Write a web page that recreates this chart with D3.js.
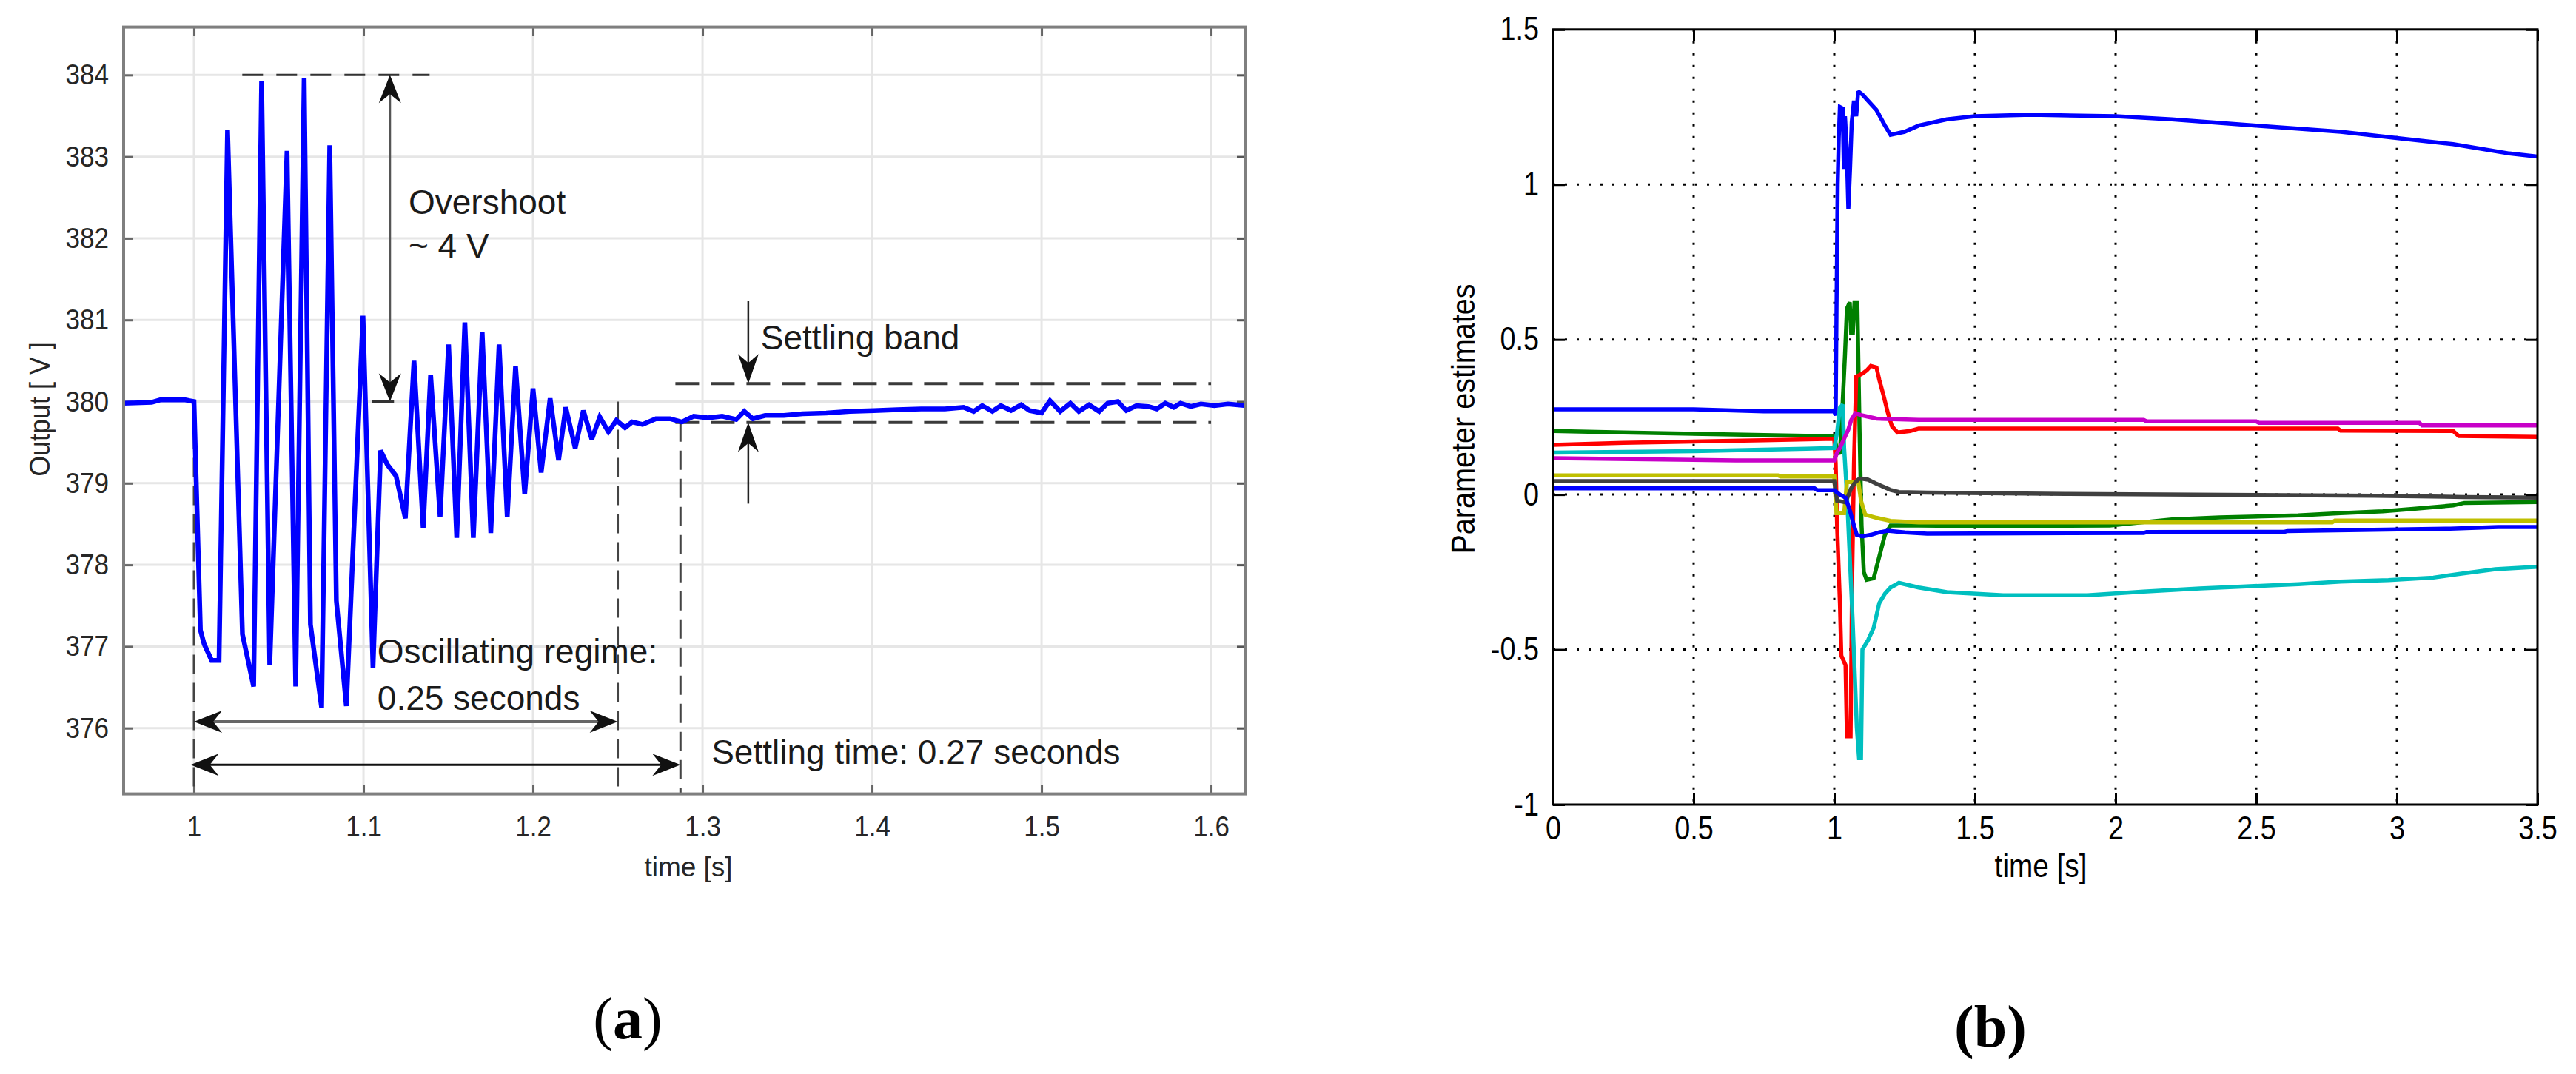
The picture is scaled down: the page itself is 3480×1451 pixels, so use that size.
<!DOCTYPE html>
<html><head><meta charset="utf-8">
<script src="https://cdn.jsdelivr.net/npm/d3@7"></script>
<style>body{margin:0;background:#fff}svg{display:block}</style>
</head><body>
<svg id="c" width="3480" height="1451" xmlns="http://www.w3.org/2000/svg"></svg>
<script>
// ---------------- DATA ----------------
// Panel (a): output voltage [t (s), V]
const outputVoltage = [
 [0.9585,379.98],[0.975,379.99],[0.98,380.02],[0.995,380.02],[1.0,380.0],
 [1.0038,377.2],[1.006,377.03],[1.0104,376.83],[1.0148,376.83],
 [1.0198,383.33],[1.0286,377.15],[1.0352,376.51],[1.0399,383.92],[1.0447,376.77],
 [1.0549,383.07],[1.060,376.51],[1.065,383.96],[1.0687,377.27],[1.0753,376.25],
 [1.0801,383.14],[1.084,377.56],[1.0899,376.27],[1.0997,381.05],[1.1056,376.74],
 [1.1101,379.40],[1.114,379.23],[1.1192,379.09],[1.1247,378.57],[1.1298,380.50],
 [1.1352,378.45],[1.1396,380.33],[1.1452,378.59],[1.1502,380.70],[1.155,378.33],
 [1.1598,380.97],[1.1648,378.33],[1.17,380.85],[1.1751,378.39],[1.18,380.70],
 [1.1848,378.59],[1.1897,380.43],[1.1951,378.87],[1.2,380.16],[1.2048,379.13],
 [1.2101,380.04],[1.2151,379.28],[1.2193,379.93],[1.2249,379.43],[1.2297,379.89],
 [1.2347,379.54],[1.2394,379.81],[1.2445,379.63],[1.2492,379.77],[1.2543,379.68],
 [1.2585,379.75],[1.2646,379.72],[1.2725,379.79],[1.2808,379.79],[1.2878,379.75],
 [1.2948,379.82],[1.3031,379.80],[1.3116,379.82],[1.3199,379.78],[1.3246,379.88],
 [1.3297,379.79],[1.337,379.83],[1.348,379.83],[1.359,379.85],[1.373,379.86],
 [1.387,379.88],[1.401,379.89],[1.415,379.90],[1.429,379.91],[1.443,379.91],
 [1.454,379.93],[1.460,379.88],[1.465,379.95],[1.471,379.88],[1.476,379.95],
 [1.482,379.89],[1.488,379.96],[1.493,379.89],[1.500,379.86],[1.505,380.01],
 [1.511,379.88],[1.517,379.98],[1.522,379.88],[1.528,379.96],[1.534,379.88],
 [1.539,379.98],[1.545,380.00],[1.550,379.89],[1.556,379.95],[1.563,379.94],
 [1.568,379.91],[1.573,379.98],[1.578,379.93],[1.582,379.98],[1.588,379.94],
 [1.594,379.97],[1.602,379.95],[1.610,379.97],[1.6205,379.95]
];
const timeTicksA = [1, 1.1, 1.2, 1.3, 1.4, 1.5, 1.6];
const voltTicksA = [376, 377, 378, 379, 380, 381, 382, 383, 384];

// Panel (a) annotations (data units)
const overshootTime = 1.1156, overshootLevels = [380, 384];
const peakLine = [1.0285, 1.139], peakLevel = 384;
const baseTick = [1.105, 1.118];
const oscSpan = [1.0, 1.25], oscLevel = 376.08;
const settleSpan = [0.998, 1.287], settleLevel = 375.55;
const bandSpan = [1.284, 1.6], bandLevels = [379.745, 380.22];
const bandArrowTime = 1.327, bandArrowTails = [381.23, 378.75];
const markerTimes = [[1.0, 380.0], [1.25, 380.0], [1.287, 379.745]];

// Panel (b): parameter estimates [t (s), value]
const paramBlueA = [[0,0.275],[0.5,0.275],[0.75,0.268],[1.0,0.268],[1.005,0.255],[1.008,0.6],[1.012,1.0],[1.016,1.15],[1.02,1.25],[1.03,1.245],[1.034,1.05],[1.038,1.22],[1.044,1.12],[1.05,0.92],[1.056,1.05],[1.062,1.2],[1.07,1.27],[1.078,1.22],[1.085,1.3],[1.1,1.29],[1.12,1.27],[1.15,1.24],[1.18,1.19],[1.2,1.16],[1.25,1.17],[1.3,1.19],[1.4,1.21],[1.5,1.22],[1.7,1.225],[2.0,1.22],[2.2,1.21],[2.5,1.19],[2.8,1.17],[3.0,1.15],[3.2,1.13],[3.4,1.1],[3.5,1.09]];
const paramGreen = [[0,0.205],[0.25,0.2],[0.75,0.192],[1.0,0.188],[1.008,0.15],[1.02,0.13],[1.03,0.3],[1.038,0.45],[1.045,0.6],[1.055,0.62],[1.06,0.52],[1.066,0.52],[1.072,0.62],[1.082,0.62],[1.09,0.2],[1.097,-0.1],[1.105,-0.25],[1.115,-0.275],[1.14,-0.27],[1.16,-0.2],[1.18,-0.13],[1.2,-0.1],[1.3,-0.1],[1.5,-0.102],[1.98,-0.1],[2.2,-0.08],[2.37,-0.074],[2.65,-0.067],[2.8,-0.06],[2.95,-0.054],[3.05,-0.047],[3.2,-0.035],[3.24,-0.027],[3.5,-0.024]];
const paramRed = [[0,0.16],[0.25,0.167],[0.75,0.175],[1.0,0.18],[1.005,0.1],[1.01,-0.1],[1.02,-0.35],[1.025,-0.52],[1.04,-0.55],[1.045,-0.78],[1.058,-0.78],[1.063,-0.3],[1.07,0.1],[1.078,0.38],[1.1,0.39],[1.115,0.4],[1.13,0.415],[1.15,0.41],[1.16,0.37],[1.175,0.32],[1.19,0.265],[1.205,0.22],[1.225,0.2],[1.27,0.205],[1.3,0.213],[2.0,0.213],[2.79,0.213],[2.8,0.206],[3.2,0.205],[3.22,0.189],[3.5,0.186]];
const paramCyan = [[0,0.135],[0.5,0.14],[0.9,0.148],[1.0,0.15],[1.01,0.2],[1.02,0.28],[1.03,0.29],[1.035,0.15],[1.045,0.0],[1.055,-0.2],[1.065,-0.4],[1.075,-0.63],[1.08,-0.75],[1.088,-0.85],[1.095,-0.85],[1.1,-0.5],[1.12,-0.47],[1.14,-0.43],[1.16,-0.35],[1.18,-0.32],[1.2,-0.3],[1.23,-0.285],[1.3,-0.3],[1.4,-0.315],[1.6,-0.325],[1.9,-0.325],[2.1,-0.313],[2.3,-0.303],[2.45,-0.297],[2.65,-0.289],[2.8,-0.281],[2.97,-0.276],[3.13,-0.268],[3.23,-0.255],[3.35,-0.241],[3.5,-0.233]];
const paramMagenta = [[0,0.117],[0.65,0.11],[1.0,0.11],[1.01,0.135],[1.02,0.15],[1.035,0.18],[1.05,0.21],[1.06,0.24],[1.075,0.262],[1.1,0.255],[1.15,0.245],[1.3,0.241],[2.1,0.241],[2.11,0.236],[2.5,0.236],[2.51,0.231],[3.08,0.231],[3.09,0.223],[3.5,0.223]];
const paramYellow = [[0,0.062],[0.8,0.062],[0.81,0.058],[1.0,0.058],[1.008,-0.06],[1.035,-0.06],[1.045,0.04],[1.07,0.04],[1.085,0.045],[1.095,-0.02],[1.11,-0.065],[1.15,-0.075],[1.2,-0.085],[1.3,-0.09],[2.0,-0.09],[2.77,-0.09],[2.78,-0.084],[3.5,-0.084]];
const paramGray = [[0,0.043],[1.0,0.043],[1.01,-0.02],[1.04,-0.025],[1.06,0.02],[1.075,0.04],[1.09,0.052],[1.12,0.048],[1.147,0.036],[1.2,0.015],[1.23,0.008],[1.33,0.006],[1.82,0.002],[2.92,-0.004],[3.24,-0.008],[3.5,-0.01]];
const paramBlueB = [[0,0.02],[0.93,0.02],[0.94,0.014],[1.0,0.014],[1.02,0.0],[1.04,-0.01],[1.055,-0.05],[1.07,-0.1],[1.08,-0.13],[1.1,-0.135],[1.13,-0.13],[1.16,-0.122],[1.19,-0.117],[1.25,-0.122],[1.33,-0.126],[2.1,-0.124],[2.11,-0.121],[2.6,-0.12],[2.61,-0.118],[2.96,-0.113],[3.19,-0.11],[3.36,-0.105],[3.5,-0.105]];
const paramSeries = [paramBlueA, paramGreen, paramRed, paramCyan, paramMagenta, paramYellow, paramGray, paramBlueB];
const paramColors = ["#0000ff","#008000","#ff0000","#00bfbf","#c800c8","#bfbf00","#404040","#0000ff"];
const timeTicksB = [0, 0.5, 1, 1.5, 2, 2.5, 3, 3.5];
const valueTicksB = [-1, -0.5, 0, 0.5, 1, 1.5];

// ---------------- DRAW ----------------
const FONT = '"Liberation Sans", Arial, Helvetica, sans-serif';
const SERIF = '"Liberation Serif", "Times New Roman", serif';
const svg = d3.select('#c');
const defs = svg.append('defs');

function head(g, x, y, ang, L, W, N, fill) {
  g.append('path')
    .attr('d', `M0,0 L${-L},${-W} L${-L + N},0 L${-L},${W} Z`)
    .attr('transform', `translate(${x},${y}) rotate(${ang})`)
    .attr('fill', fill);
}

// ===== Panel (a) =====
const xA = d3.scaleLinear().domain([0.9585, 1.6205]).range([167, 1683]);
const yA = d3.scaleLinear().domain([375.194, 384.587]).range([1072.6, 36.6]);
const [aL, aR] = xA.range(); const [aB, aT] = yA.range();
const gA = svg.append('g');

defs.append('clipPath').attr('id', 'clipA').append('rect')
  .attr('x', aL).attr('y', aT).attr('width', aR - aL).attr('height', aB - aT);

gA.append('g').selectAll('line').data(timeTicksA).join('line')
  .attr('x1', d => xA(d)).attr('x2', d => xA(d)).attr('y1', aT).attr('y2', aB)
  .attr('stroke', '#e6e6e6').attr('stroke-width', 3);
gA.append('g').selectAll('line').data(voltTicksA).join('line')
  .attr('y1', d => yA(d)).attr('y2', d => yA(d)).attr('x1', aL).attr('x2', aR)
  .attr('stroke', '#e6e6e6').attr('stroke-width', 3);

function styleAxis(sel, color, tw, fs, fill, sx) {
  sel.select('.domain').remove();
  sel.selectAll('.tick line').attr('stroke', color).attr('stroke-width', tw);
  sel.selectAll('.tick text').attr('font-family', FONT).attr('font-size', fs).attr('fill', fill);
}
const axA_b = gA.append('g').attr('transform', `translate(0,${aB})`)
  .call(d3.axisBottom(xA).tickValues(timeTicksA).tickSize(-12).tickSizeOuter(0).tickPadding(30).tickFormat(d => String(d)));
styleAxis(axA_b, '#666', 3, 38, '#262626');
axA_b.selectAll('.tick text').attr('transform', 'scale(0.92,1)');
const axA_l = gA.append('g').attr('transform', `translate(${aL},0)`)
  .call(d3.axisLeft(yA).tickValues(voltTicksA).tickSize(-12).tickSizeOuter(0).tickPadding(20).tickFormat(d => String(d)));
styleAxis(axA_l, '#666', 3, 39, '#262626');
axA_l.selectAll('.tick text').attr('x', -20 / 0.9).attr('transform', 'scale(0.9,1)');
const axA_t = gA.append('g').attr('transform', `translate(0,${aT})`)
  .call(d3.axisTop(xA).tickValues(timeTicksA).tickSize(-12).tickSizeOuter(0).tickFormat(''));
styleAxis(axA_t, '#666', 3, 10, '#000');
const axA_r = gA.append('g').attr('transform', `translate(${aR},0)`)
  .call(d3.axisRight(yA).tickValues(voltTicksA).tickSize(-12).tickSizeOuter(0).tickFormat(''));
styleAxis(axA_r, '#555', 3, 10, '#000');

// dashed helper lines
const dashG = gA.append('g');
dashG.append('line').attr('x1', xA(peakLine[0])).attr('x2', xA(peakLine[1]))
  .attr('y1', yA(peakLevel)).attr('y2', yA(peakLevel))
  .attr('stroke', '#333').attr('stroke-width', 3).attr('stroke-dasharray', '28,18');
dashG.selectAll('.vm').data(markerTimes).join('line')
  .attr('x1', d => xA(d[0])).attr('x2', d => xA(d[0]))
  .attr('y1', d => yA(d[1])).attr('y2', aB)
  .attr('stroke', '#444').attr('stroke-width', 3).attr('stroke-dasharray', '26,12');
dashG.selectAll('.band').data(bandLevels).join('line')
  .attr('x1', xA(bandSpan[0])).attr('x2', xA(bandSpan[1]))
  .attr('y1', d => yA(d)).attr('y2', d => yA(d))
  .attr('stroke', '#3a3a3a').attr('stroke-width', 4).attr('stroke-dasharray', '32,16');

// blue output line
gA.append('path').datum(outputVoltage)
  .attr('clip-path', 'url(#clipA)')
  .attr('d', d3.line().x(d => xA(d[0])).y(d => yA(d[1])))
  .attr('fill', 'none').attr('stroke', '#0000ff').attr('stroke-width', 6.5)
  .attr('stroke-linejoin', 'miter').attr('stroke-miterlimit', 3);

// frame
gA.append('rect').attr('x', aL).attr('y', aT).attr('width', aR - aL).attr('height', aB - aT)
  .attr('fill', 'none').attr('stroke', '#7f7f7f').attr('stroke-width', 4);

// annotations
const annA = gA.append('g');
// overshoot arrow
annA.append('line').attr('x1', xA(overshootTime)).attr('x2', xA(overshootTime))
  .attr('y1', yA(overshootLevels[1]) + 20).attr('y2', yA(overshootLevels[0]) - 20)
  .attr('stroke', '#555').attr('stroke-width', 3);
head(annA, xA(overshootTime), yA(overshootLevels[1]), -90, 38, 15, 12, '#111');
head(annA, xA(overshootTime), yA(overshootLevels[0]), 90, 38, 15, 12, '#111');
annA.append('line').attr('x1', xA(baseTick[0])).attr('x2', xA(baseTick[1]))
  .attr('y1', yA(380)).attr('y2', yA(380)).attr('stroke', '#333').attr('stroke-width', 3);
// oscillating arrow
annA.append('line').attr('x1', xA(oscSpan[0]) + 10).attr('x2', xA(oscSpan[1]) - 10)
  .attr('y1', yA(oscLevel)).attr('y2', yA(oscLevel)).attr('stroke', '#666').attr('stroke-width', 4);
head(annA, xA(oscSpan[0]), yA(oscLevel), 180, 38, 15, 12, '#111');
head(annA, xA(oscSpan[1]), yA(oscLevel), 0, 38, 15, 12, '#111');
// settling arrow
annA.append('line').attr('x1', xA(settleSpan[0]) + 10).attr('x2', xA(settleSpan[1]) - 10)
  .attr('y1', yA(settleLevel)).attr('y2', yA(settleLevel)).attr('stroke', '#111').attr('stroke-width', 3);
head(annA, xA(settleSpan[0]), yA(settleLevel), 180, 38, 15, 12, '#111');
head(annA, xA(settleSpan[1]), yA(settleLevel), 0, 38, 15, 12, '#111');
// band arrows
annA.append('line').attr('x1', xA(bandArrowTime)).attr('x2', xA(bandArrowTime))
  .attr('y1', yA(bandArrowTails[0])).attr('y2', yA(bandLevels[1]) - 20)
  .attr('stroke', '#222').attr('stroke-width', 2.5);
head(annA, xA(bandArrowTime), yA(bandLevels[1]), 90, 40, 14, 12, '#111');
annA.append('line').attr('x1', xA(bandArrowTime)).attr('x2', xA(bandArrowTime))
  .attr('y1', yA(bandArrowTails[1])).attr('y2', yA(bandLevels[0]) + 20)
  .attr('stroke', '#222').attr('stroke-width', 2.5);
head(annA, xA(bandArrowTime), yA(bandLevels[0]), -90, 40, 14, 12, '#111');

const annText = [
  {t: 1.1266, v: 382.30, s: 'Overshoot'},
  {t: 1.1266, v: 381.76, s: '~ 4 V'},
  {t: 1.3344, v: 380.64, s: 'Settling band'},
  {t: 1.1082, v: 376.795, s: 'Oscillating regime:'},
  {t: 1.1082, v: 376.227, s: '0.25 seconds'},
  {t: 1.3053, v: 375.565, s: 'Settling time: 0.27 seconds'}
];
annA.selectAll('.at').data(annText).join('text')
  .attr('x', d => xA(d.t)).attr('y', d => yA(d.v))
  .attr('font-family', FONT).attr('font-size', 46).attr('fill', '#1a1a1a')
  .text(d => d.s);

gA.append('text').attr('x', (aL + aR) / 2 + 5).attr('y', 1184)
  .attr('text-anchor', 'middle').attr('font-family', FONT).attr('font-size', 37).attr('fill', '#262626')
  .text('time [s]');
gA.append('text').attr('transform', `translate(67,553) rotate(-90) scale(0.92,1)`)
  .attr('text-anchor', 'middle').attr('font-family', FONT).attr('font-size', 39).attr('fill', '#262626')
  .text('Output [ V ]');
const la = gA.append('text').attr('x', 848).attr('y', 1403).attr('text-anchor', 'middle')
  .attr('font-family', SERIF).attr('font-size', 80).attr('fill', '#000');
la.append('tspan').text('(');
la.append('tspan').attr('font-weight', 'bold').text('a');
la.append('tspan').text(')');

// ===== Panel (b) =====
const xB = d3.scaleLinear().domain([0, 3.5]).range([2098, 3428]);
const yB = d3.scaleLinear().domain([-1, 1.5]).range([1087, 39.8]);
const [bL, bR] = xB.range(); const [bB, bT] = yB.range();
const gB = svg.append('g');
defs.append('clipPath').attr('id', 'clipB').append('rect')
  .attr('x', bL).attr('y', bT).attr('width', bR - bL).attr('height', bB - bT);

gB.append('g').selectAll('line').data(timeTicksB.slice(1, -1)).join('line')
  .attr('x1', d => xB(d)).attr('x2', d => xB(d)).attr('y1', bT).attr('y2', bB)
  .attr('stroke', '#000').attr('stroke-width', 3).attr('stroke-dasharray', '3,13');
gB.append('g').selectAll('line').data(valueTicksB.slice(1, -1)).join('line')
  .attr('y1', d => yB(d)).attr('y2', d => yB(d)).attr('x1', bL).attr('x2', bR)
  .attr('stroke', '#000').attr('stroke-width', 3).attr('stroke-dasharray', '3,13');

const lineB = d3.line().x(d => xB(d[0])).y(d => yB(d[1]));
gB.append('g').attr('clip-path', 'url(#clipB)')
  .selectAll('path').data(paramSeries).join('path')
  .attr('d', d => lineB(d))
  .attr('fill', 'none').attr('stroke', (d, i) => paramColors[i]).attr('stroke-width', 5.5)
  .attr('stroke-linejoin', 'miter').attr('stroke-miterlimit', 2);

const axB_b = gB.append('g').attr('transform', `translate(0,${bB})`)
  .call(d3.axisBottom(xB).tickValues(timeTicksB).tickSize(-16).tickSizeOuter(0).tickPadding(16).tickFormat(d => String(d)));
styleAxis(axB_b, '#000', 3, 44, '#000');
axB_b.selectAll('.tick text').attr('transform', 'scale(0.86,1)');
const axB_l = gB.append('g').attr('transform', `translate(${bL},0)`)
  .call(d3.axisLeft(yB).tickValues(valueTicksB).tickSize(-16).tickSizeOuter(0).tickPadding(19).tickFormat(d => String(d)));
styleAxis(axB_l, '#000', 3, 44, '#000');
axB_l.selectAll('.tick text').attr('x', -19 / 0.86).attr('transform', 'scale(0.86,1)');
const axB_t = gB.append('g').attr('transform', `translate(0,${bT})`)
  .call(d3.axisTop(xB).tickValues(timeTicksB).tickSize(-16).tickSizeOuter(0).tickFormat(''));
styleAxis(axB_t, '#000', 3, 10, '#000');
const axB_r = gB.append('g').attr('transform', `translate(${bR},0)`)
  .call(d3.axisRight(yB).tickValues(valueTicksB).tickSize(-16).tickSizeOuter(0).tickFormat(''));
styleAxis(axB_r, '#000', 3, 10, '#000');

gB.append('rect').attr('x', bL).attr('y', bT).attr('width', bR - bL).attr('height', bB - bT)
  .attr('fill', 'none').attr('stroke', '#000').attr('stroke-width', 3);

gB.append('text').attr('transform', `translate(2757,1185) scale(0.88,1)`)
  .attr('text-anchor', 'middle').attr('font-family', FONT).attr('font-size', 44).attr('fill', '#000')
  .text('time [s]');
gB.append('text').attr('transform', `translate(1992,566) rotate(-90) scale(0.9,1)`)
  .attr('text-anchor', 'middle').attr('font-family', FONT).attr('font-size', 44).attr('fill', '#000')
  .text('Parameter estimates');
gB.append('text').attr('x', 2689).attr('y', 1414).attr('text-anchor', 'middle')
  .attr('font-family', SERIF).attr('font-size', 80).attr('font-weight', 'bold').attr('fill', '#000')
  .text('(b)');
</script>
</body></html>
